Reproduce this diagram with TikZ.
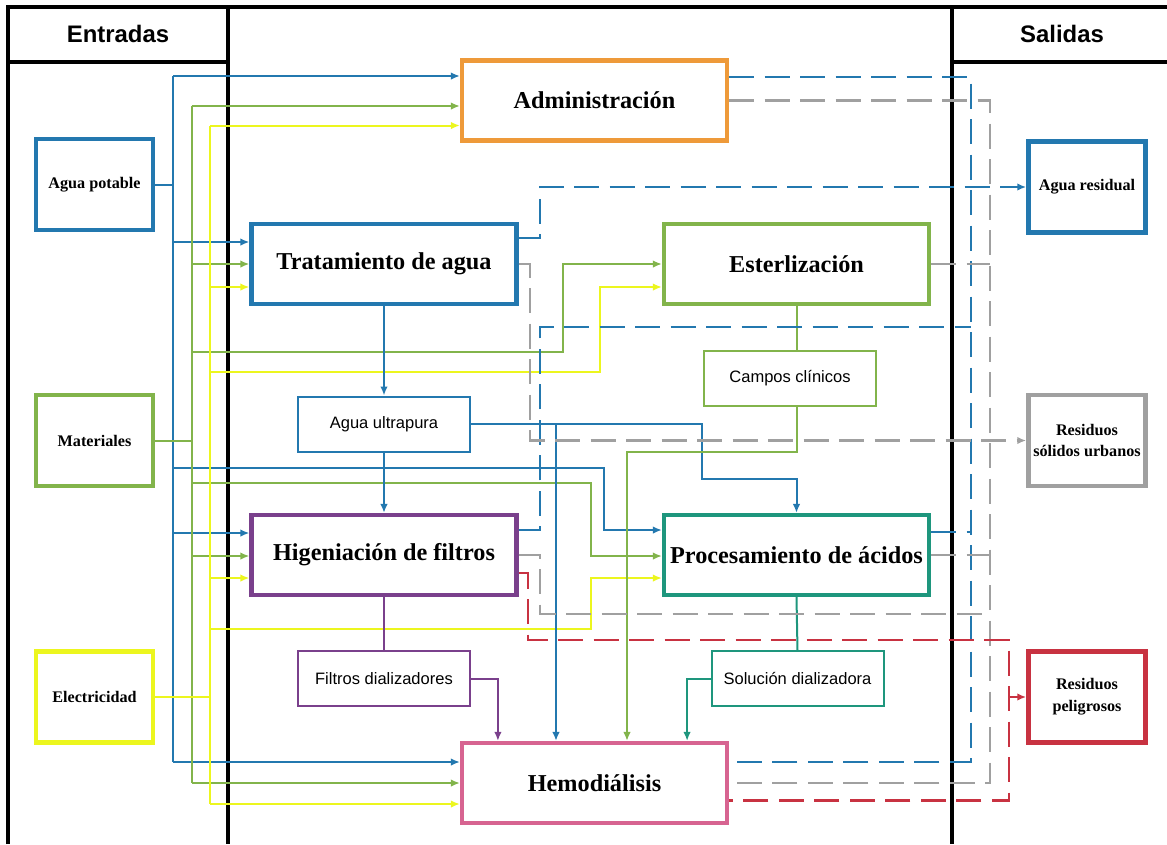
\documentclass[tikz,border=0pt]{standalone}
\usepackage{fontspec}
\setmainfont{Liberation Serif}
\setsansfont{Liberation Sans}
\usetikzlibrary{calc,arrows.meta}
\definecolor{azul}{RGB}{35,120,175}
\definecolor{verde}{RGB}{130,180,75}
\definecolor{amarillo}{RGB}{236,246,30}
\definecolor{naranja}{RGB}{238,154,58}
\definecolor{morado}{RGB}{122,64,140}
\definecolor{turquesa}{RGB}{30,150,125}
\definecolor{rosa}{RGB}{215,100,145}
\definecolor{gris}{RGB}{160,160,160}
\definecolor{rojo}{RGB}{200,50,65}
\begin{document}
\begin{tikzpicture}[x=0.1mm,y=-0.1mm,>={Latex[length=0.9mm,width=0.75mm]},
  caja/.style={draw,line width=0.42mm,minimum width=26.5mm,minimum height=8mm,inner sep=0pt,font=\bfseries\fontsize{6.9}{8}\selectfont},
  lado/.style={draw,line width=0.45mm,minimum width=11.7mm,minimum height=9.1mm,inner sep=0pt,align=center,font=\bfseries\fontsize{4.6}{6.2}\selectfont},
  subcaja/.style={draw,line width=0.2mm,minimum width=17.2mm,minimum height=5.5mm,inner sep=0pt,font=\sffamily\fontsize{4.7}{6}\selectfont},
  flujo/.style={line width=0.2mm},
  salida/.style={line width=0.26mm,dash pattern=on 2.5mm off 1.05mm},
  titulo/.style={font=\sffamily\bfseries\fontsize{6.8}{8}\selectfont}]
\useasboundingbox (0,0) rectangle (1167,844);

\draw[line width=0.45mm] (8,844) -- (8,7) -- (1167,7);
\draw[line width=0.45mm] (228,7) -- (228,844) (952,7) -- (952,844);
\draw[line width=0.45mm] (8,62) -- (228,62) (952,62) -- (1167,62);
\node[titulo] (entradas) at (118,34) {Entradas};
\node[titulo] (salidas) at (1062,34) {Salidas};

\node[lado,draw=azul] (agua) at (94.5,184.5) {Agua potable};
\node[lado,draw=verde] (mat) at (94.5,440.5) {Materiales};
\node[lado,draw=amarillo] (elec) at (94.5,697) {Electricidad};
\node[lado,draw=azul] (resid) at (1087,187) {Agua residual};
\node[lado,draw=gris] (rsu) at (1087,440.5) {Residuos\\sólidos urbanos};
\node[lado,draw=rojo] (rpel) at (1087,697) {Residuos\\peligrosos};

\node[caja,draw=naranja] (adm) at (594.5,100.5) {Administración};
\node[caja,draw=azul] (trat) at (384,264) {Tratamiento de agua};
\node[caja,draw=verde] (est) at (796.5,264) {Esterlización};
\node[caja,draw=morado] (hig) at (384,555) {Higeniación de filtros};
\node[caja,draw=turquesa] (proc) at (796.5,555) {Procesamiento de ácidos};
\node[caja,draw=rosa] (hemo) at (594.5,783) {Hemodiálisis};

\node[subcaja,draw=azul] (ultra) at (384,424) {Agua ultrapura};
\node[subcaja,draw=verde] (campos) at (790,378.5) {Campos clínicos};
\node[subcaja,draw=morado] (filt) at (384,678.5) {Filtros dializadores};
\node[subcaja,draw=turquesa] (sol) at (797.5,678.5) {Solución dializadora};

% entradas
\coordinate (vA) at (173,0);
\coordinate (vM) at (191.5,0);
\coordinate (vE) at (210,0);
\draw[flujo,azul] (agua.east) -- (agua.east -| vA);
\draw[flujo,azul] ($(vA |- adm.west)+(0,-24.5)$) -- ($(vA |- hemo.west)+(0,-21)$);
\foreach \n/\dy in {adm/-24.5,trat/-22,hig/-22,hemo/-21}
  \draw[flujo,azul,->] ($(vA |- \n.west)+(0,\dy)$) -- ($(\n.west)+(0,\dy)$);
\coordinate (kA) at (604,468);
\draw[flujo,azul,->] (vA |- kA) -- (kA) |- ($(proc.west)+(0,-25)$);

\draw[flujo,verde] (mat.east) -- (mat.east -| vM);
\draw[flujo,verde] ($(vM |- adm.west)+(0,5.5)$) -- (vM |- hemo.west);
\foreach \n/\dy in {adm/5.5,trat/0,hig/1,hemo/0}
  \draw[flujo,verde,->] ($(vM |- \n.west)+(0,\dy)$) -- ($(\n.west)+(0,\dy)$);
\coordinate (kM1) at (563,352);
\coordinate (kM2) at (591,483);
\draw[flujo,verde,->] (vM |- kM1) -- (kM1) |- (est.west);
\draw[flujo,verde,->] (vM |- kM2) -- (kM2) |- ($(proc.west)+(0,1)$);

\draw[flujo,amarillo] (elec.east) -- (elec.east -| vE);
\draw[flujo,amarillo] ($(vE |- adm.west)+(0,25)$) -- ($(vE |- hemo.west)+(0,21)$);
\foreach \n/\dy in {adm/25,trat/23,hig/23,hemo/21}
  \draw[flujo,amarillo,->] ($(vE |- \n.west)+(0,\dy)$) -- ($(\n.west)+(0,\dy)$);
\coordinate (kE1) at (600,372);
\coordinate (kE2) at (591,629);
\draw[flujo,amarillo,->] (vE |- kE1) -- (kE1) |- ($(est.west)+(0,23)$);
\draw[flujo,amarillo,->] (vE |- kE2) -- (kE2) |- ($(proc.west)+(0,23)$);

% productos
\draw[flujo,azul,->] (trat.south) -- (ultra.north);
\draw[flujo,azul,->] (ultra.south) -- (hig.north);
\coordinate (kU) at (702,479);
\draw[flujo,azul,->] (ultra.east) -| (kU) -| (proc.north);
\coordinate (kH) at (556,0);
\draw[flujo,azul,->] (kH |- ultra.east) -- (kH |- hemo.north);
\draw[flujo,verde] (est.south) -- (est.south |- campos.north);
\coordinate (kC) at (627,452);
\draw[flujo,verde,->] (est.south |- campos.south) |- (kC) -- (kC |- hemo.north);
\draw[flujo,morado] (hig.south) -- (filt.north);
\draw[flujo,morado,->] (filt.east) -| ($(hemo.north west)+(38,0)$);
\draw[flujo,turquesa] (proc.south) -- (sol.north);
\draw[flujo,turquesa,->] (sol.west) -| ($(hemo.north east)+(-42,0)$);

% salidas
\coordinate (sA) at (971,0);
\coordinate (sG) at (990,0);
\coordinate (sR) at (1009,0);
\coordinate (cA) at (540,0);
\coordinate (cG) at (530,0);
\draw[salida,azul] ($(adm.east)+(0,-23.5)$) -| ($(sA |- hemo.east)+(0,-21)$) -- ($(hemo.east)+(0,-21)$);
\draw[salida,azul,->] ($(trat.east)+(0,-26)$) -| (cA |- resid.west) -- (resid.west);
\coordinate (kB) at (540,327);
\draw[salida,azul] ($(hig.east)+(0,-25)$) -| (kB) -- (kB -| sA);
\draw[salida,azul] ($(proc.east)+(0,-23)$) -- ($(sA |- proc.east)+(0,-23)$);

\draw[salida,gris] (adm.east) -| (sG |- hemo.east) -- (hemo.east);
\draw[salida,gris,->] (trat.east) -| (cG |- rsu.west) -- (rsu.west);
\draw[salida,gris] (est.east) -- (est.east -| sG);
\coordinate (kG) at (540,614);
\draw[salida,gris] (hig.east) -| (kG) -- (kG -| sG);
\draw[salida,gris] (proc.east) -- (proc.east -| sG);

\coordinate (kR) at (528,640);
\draw[salida,rojo] ($(hig.east)+(0,18)$) -| (kR) -| ($(sR |- hemo.east)+(0,17.5)$) -- ($(hemo.east)+(0,17.5)$);
\draw[salida,rojo,->] (sR |- rpel.west) -- (rpel.west);
\end{tikzpicture}
\end{document}
